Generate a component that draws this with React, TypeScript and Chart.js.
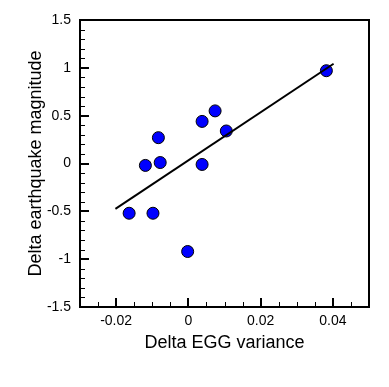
import React, { useEffect, useRef } from 'react';
import { Chart, registerables } from 'chart.js';

Chart.register(...registerables);

// Data
const eggVariance = [-0.0164, -0.0098, -0.0002, -0.0119, -0.0078, -0.0083, 0.0038, 0.0074, 0.0105, 0.0038, 0.0382];
const quakeMagnitude = [-0.52, -0.52, -0.92, -0.02, 0.01, 0.27, 0.44, 0.55, 0.34, -0.01, 0.97];
const fitX = [-0.0202, 0.0402];
const fitY = [-0.475, 1.043];
const xTickValues = [-0.02, 0, 0.02, 0.04];
const yTickValues = [-1.5, -1, -0.5, 0, 0.5, 1, 1.5];
const xRange = [-0.03, 0.05];
const yRange = [-1.5, 1.5];
const xMinorStep = 0.005;
const yMinorStep = 0.1;
const xTitle = 'Delta EGG variance';
const yTitle = 'Delta earthquake magnitude';

const FONT = "'Liberation Sans', Arial, Helvetica, sans-serif";

const framePlugin = {
  id: 'frameTicks',
  afterDraw(chart: any) {
    const { ctx, chartArea, scales } = chart;
    const { left, top, right, bottom } = chartArea;
    const xs = scales.x;
    const ys = scales.y;
    ctx.save();
    ctx.strokeStyle = '#000';
    const isMajor = (v: number, list: number[]) => list.some((t) => Math.abs(t - v) < 1e-9);
    const nx = Math.round((xRange[1] - xRange[0]) / xMinorStep);
    for (let i = 1; i < nx; i++) {
      const v = xRange[0] + i * xMinorStep;
      const major = isMajor(v, xTickValues);
      const px = Math.round(xs.getPixelForValue(v)) + (major ? 0 : 0.5);
      ctx.lineWidth = major ? 2 : 1;
      ctx.beginPath();
      ctx.moveTo(px, bottom);
      ctx.lineTo(px, bottom - (major ? 9 : 5));
      ctx.stroke();
    }
    const ny = Math.round((yRange[1] - yRange[0]) / yMinorStep);
    for (let i = 1; i < ny; i++) {
      const v = yRange[0] + i * yMinorStep;
      const major = isMajor(v, yTickValues);
      const py = Math.round(ys.getPixelForValue(v)) + (major ? 0 : 0.5);
      ctx.lineWidth = major ? 2 : 1;
      ctx.beginPath();
      ctx.moveTo(left, py);
      ctx.lineTo(left + (major ? 9 : 5), py);
      ctx.stroke();
    }
    ctx.lineWidth = 2;
    ctx.strokeRect(left, top, right - left, bottom - top);
    ctx.restore();
  },
};

export default function App() {
  const ref = useRef<HTMLCanvasElement | null>(null);
  useEffect(() => {
    if (!ref.current) return;
    const points = eggVariance.map((x, i) => ({ x, y: quakeMagnitude[i] }));
    const fit = fitX.map((x, i) => ({ x, y: fitY[i] }));
    const chart = new Chart(ref.current, {
      type: 'scatter',
      data: {
        datasets: [
          {
            type: 'line',
            data: fit,
            borderColor: '#000',
            borderWidth: 2,
            pointRadius: 0,
            fill: false,
            order: 0,
          } as any,
          {
            data: points,
            backgroundColor: '#0000ff',
            borderColor: '#000',
            borderWidth: 1,
            pointRadius: 6,
            order: 1,
          },
        ],
      },
      options: {
        animation: false,
        responsive: false,
        devicePixelRatio: 1,
        layout: { padding: { top: 20, right: 20, left: 0, bottom: 0 } },
        plugins: { legend: { display: false }, tooltip: { enabled: false } },
        scales: {
          x: {
            type: 'linear',
            min: xRange[0],
            max: xRange[1],
            afterBuildTicks: (s: any) => {
              s.ticks = xTickValues.map((v) => ({ value: v }));
            },
            afterFit: (s: any) => {
              s.height = 80;
            },
            grid: { display: false, drawTicks: false, tickLength: 0 },
            border: { display: false },
            ticks: {
              autoSkip: false,
              maxRotation: 0,
              padding: 6,
              color: '#000',
              font: { family: FONT, size: 14 },
              callback: (v: any) => String(v),
            },
            title: {
              display: true,
              text: xTitle,
              color: '#000',
              font: { family: FONT, size: 18 },
              padding: { top: 0, bottom: 33.4 },
            },
          },
          y: {
            type: 'linear',
            min: yRange[0],
            max: yRange[1],
            afterBuildTicks: (s: any) => {
              s.ticks = yTickValues.map((v) => ({ value: v }));
            },
            afterFit: (s: any) => {
              s.width = 80;
            },
            grid: { display: false, drawTicks: false, tickLength: 0 },
            border: { display: false },
            ticks: {
              autoSkip: false,
              padding: 9,
              color: '#000',
              font: { family: FONT, size: 14 },
              callback: (v: any) => String(v),
            },
            title: {
              display: true,
              text: yTitle,
              color: '#000',
              font: { family: FONT, size: 18 },
              padding: { top: 25.5, bottom: 0 },
            },
          },
        },
      },
      plugins: [framePlugin],
    });
    return () => chart.destroy();
  }, []);
  return (
    <div style={{ position: 'absolute', left: 0, top: 0, width: 389, height: 387, background: '#fff' }}>
      <canvas ref={ref} width={389} height={387} />
    </div>
  );
}
